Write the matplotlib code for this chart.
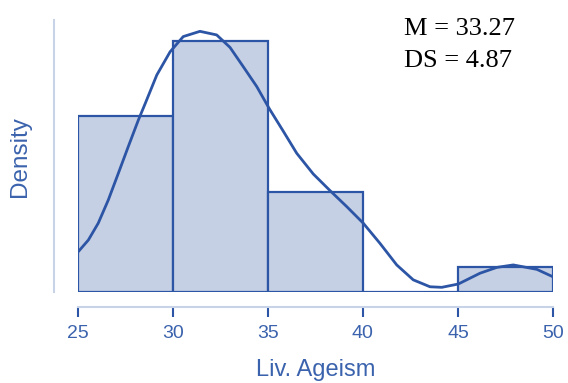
import matplotlib
matplotlib.use("Agg")
import matplotlib.pyplot as plt
import numpy as np

# histogram (counts per 5-unit bin), n = 22
bin_edges = [25, 30, 35, 40, 45, 50]
counts = [7, 10, 4, 0, 1]

# density curve
kde_x = [25.03, 25.56, 26.08, 26.61, 27.14, 27.66, 28.19, 28.54, 29.16, 29.86,
         30.55, 31.43, 32.31, 33.01, 33.71, 34.42, 35.08, 35.82, 36.52, 37.39,
         38.27, 39.15, 40.02, 40.90, 41.78, 42.65, 43.53, 44.15, 45.02, 46.16,
         47.04, 47.91, 49.15, 50.0]
kde_y = [0.0147, 0.0189, 0.0250, 0.0334, 0.0431, 0.0527, 0.0623, 0.0681, 0.0786, 0.0870,
         0.0925, 0.0944, 0.0931, 0.0886, 0.0816, 0.0744, 0.0664, 0.0582, 0.0503, 0.0428,
         0.0368, 0.0310, 0.0250, 0.0177, 0.0099, 0.0045, 0.0020, 0.0018, 0.0030, 0.0069,
         0.0090, 0.0099, 0.0083, 0.0056]

xticks = [25, 30, 35, 40, 45, 50]
stats = ["M = 33.27", "DS = 4.87"]

edge_col = "#2d55a5"
fill_col = "#c6d0e4"
axis_col = "#c9d3e8"
text_col = "#3b63ad"

n = sum(counts)
width = np.diff(bin_edges)
dens = np.array(counts) / (n * width)

fig = plt.figure(figsize=(5.68, 3.83), dpi=100)
ax = fig.add_axes([77.7 / 568, (383 - 292.3) / 383, (553 - 77.7) / 568, (292.3 - 20) / 383])

ax.bar(bin_edges[:-1], dens, width=width, align="edge", color=fill_col,
       edgecolor=edge_col, linewidth=1.6, zorder=2)
ax.plot(kde_x, kde_y, color=edge_col, linewidth=2.0, zorder=3,
        solid_joinstyle="round", solid_capstyle="round")

ax.set_xlim(25, 50)
ax.set_ylim(0, 0.0985)

for s in ["top", "right"]:
    ax.spines[s].set_visible(False)
ax.spines["left"].set_position(("outward", 16.8))
ax.spines["left"].set_color(axis_col)
ax.spines["left"].set_linewidth(1.5)
ax.spines["bottom"].set_position(("outward", 10.4))
ax.spines["bottom"].set_color(axis_col)
ax.spines["bottom"].set_linewidth(1.5)
ax.spines["bottom"].set_bounds(25, 50)

ax.set_yticks([])
ax.set_xticks(xticks)
ax.set_xticklabels([str(t) for t in xticks])
ax.tick_params(axis="x", length=7, width=1.5, color=edge_col, labelcolor=text_col,
               labelsize=14, pad=6.5)
for lab in ax.get_xticklabels():
    lab.set_family("Liberation Sans")

ax.set_xlabel("Liv. Ageism", fontsize=17, color=text_col, family="Liberation Sans", labelpad=12)
ax.set_ylabel("Density", fontsize=17.5, color=text_col, family="Liberation Sans", labelpad=17)

ax.text(404 / 568, 1 - 35 / 383, stats[0], transform=fig.transFigure, fontsize=19,
        family="Liberation Serif", color="black", va="baseline")
ax.text(404 / 568, 1 - 66.7 / 383, stats[1], transform=fig.transFigure, fontsize=19,
        family="Liberation Serif", color="black", va="baseline")

fig.savefig("out.png", dpi=100)
